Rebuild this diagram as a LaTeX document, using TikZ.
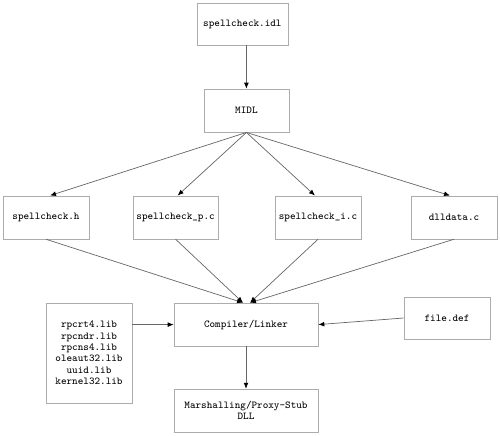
\documentclass[tikz,border=0pt]{standalone}
\usepackage{tikz}
\usetikzlibrary{arrows.meta}

\tikzset{
  filebox/.style={draw=gray!65, fill=white, minimum width=2.15cm, minimum height=1.075cm,
    inner sep=1pt, align=center, font=\ttfamily\fontsize{7.5}{8.1}\selectfont},
  flow/.style={draw=gray!80!black, -{Latex[black, length=1.5mm, width=1.2mm]}}
}

\begin{document}
\begin{tikzpicture}[line width=0.5pt]
      \useasboundingbox (0,0) rectangle (12.5,10.875);

      % Define coordinates
      \coordinate (idl_pos) at (6.06, 10.275);
      \coordinate (midl_pos) at (6.16, 8.11);
      \coordinate (comp_pos) at (6.15, 2.76);
      \coordinate (marsh_pos) at (6.15, 0.61);

      % Draw the IDL file and the MIDL compiler
      \node[filebox, minimum width=2.275cm, minimum height=1.05cm] (idl) at (idl_pos) {spellcheck.idl};
      \node[filebox, minimum width=2.125cm] (midl) at (midl_pos) {MIDL};

      % Draw the generated files
      \node[filebox] (hdr) at (1.15, 5.44) {spellcheck.h};
      \node[filebox, minimum width=2.125cm] (proxy) at (4.39, 5.44) {spellcheck\_p.c};
      \node[filebox] (iid) at (7.95, 5.44) {spellcheck\_i.c};
      \node[filebox] (dlldata) at (11.35, 5.44) {dlldata.c};

      % Draw the linker inputs and outputs
      \node[filebox, minimum height=2.5cm] (libs) at (2.225, 2.05)
        {rpcrt4.lib\\rpcndr.lib\\rpcns4.lib\\oleaut32.lib\\uuid.lib\\kernel32.lib};
      \node[filebox, minimum width=3.6cm] (comp) at (comp_pos) {Compiler/Linker};
      \node[filebox, minimum height=1.05cm] (def) at (11.175, 2.925) {file.def};
      \node[filebox, minimum width=3.6cm] (marsh) at (marsh_pos) {Marshalling/Proxy-Stub\\DLL};

      % Entry points on top of the compiler
      \coordinate (comp_left) at ([xshift=-0.075cm]comp.north);
      \coordinate (comp_right) at ([xshift=0.1cm]comp.north);

      % Draw the arrows
      \draw[flow] (midl.north |- idl.south) -- (midl.north);
      \draw[flow] (midl.south) -- ([xshift=0.1cm]hdr.north);
      \draw[flow] (midl.south) -- ([xshift=0.05cm]proxy.north);
      \draw[flow] (midl.south) -- ([xshift=-0.075cm]iid.north);
      \draw[flow] (midl.south) -- ([xshift=-0.1cm]dlldata.north);

      \draw[flow] (hdr.south) -- (comp_left);
      \draw[flow] (proxy.south) -- (comp_left);
      \draw[flow] (iid.south) -- (comp_right);
      \draw[flow] (dlldata.south) -- (comp_right);

      \draw[flow] (libs.east |- comp.west) -- (comp.west);
      \draw[flow] (def.west) -- (comp.east);
      \draw[flow] (comp) -- (marsh);
    \end{tikzpicture}
\end{document}
